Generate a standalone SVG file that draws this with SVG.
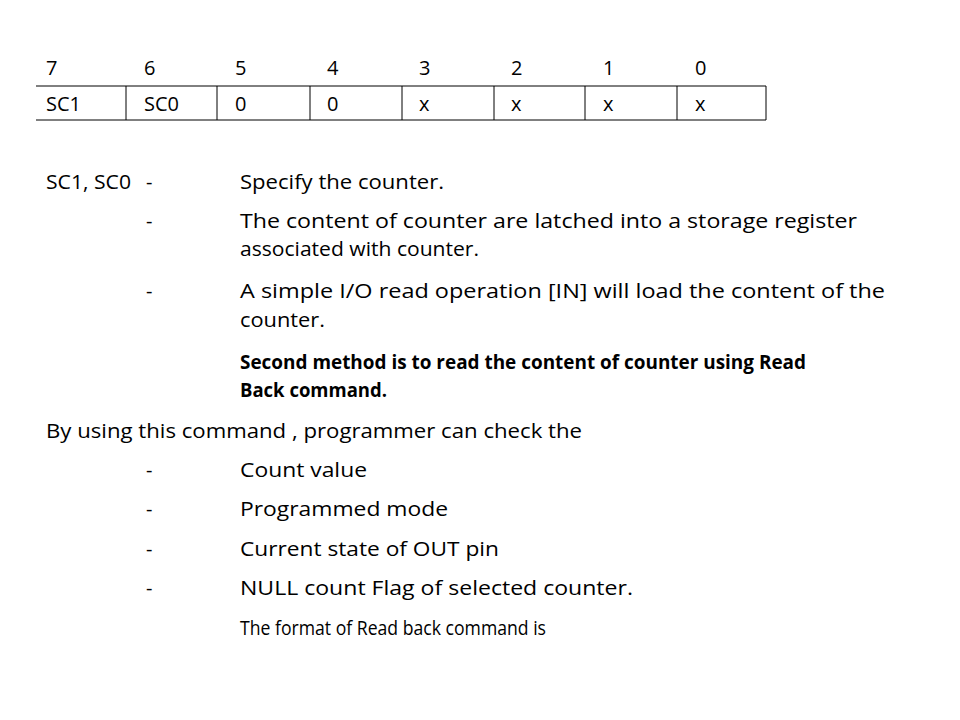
<svg xmlns="http://www.w3.org/2000/svg" width="960" height="720" viewBox="0 0 960 720">
<style>
text{font-family:"Open Sans","Liberation Sans",sans-serif;font-size:20px;fill:#000}
.b{font-weight:bold}
line{stroke:#000;stroke-width:1}
</style>
<rect width="960" height="720" fill="#fff"/>
<g id="table">
<line x1="36" y1="86" x2="766" y2="86"/>
<line x1="36" y1="120" x2="766" y2="120"/>
<line x1="126" y1="86" x2="126" y2="120"/>
<line x1="217" y1="86" x2="217" y2="120"/>
<line x1="310" y1="86" x2="310" y2="120"/>
<line x1="402" y1="86" x2="402" y2="120"/>
<line x1="494" y1="86" x2="494" y2="120"/>
<line x1="585" y1="86" x2="585" y2="120"/>
<line x1="677" y1="86" x2="677" y2="120"/>
<line x1="766" y1="86" x2="766" y2="120"/>
<text x="46" y="75">7</text><text x="144" y="75">6</text><text x="235" y="75">5</text><text x="327" y="75">4</text><text x="419" y="75">3</text><text x="511" y="75">2</text><text x="603" y="75">1</text><text x="695" y="75">0</text>
<text x="46" y="111">SC1</text><text x="144" y="111">SC0</text><text x="235" y="111">0</text><text x="327" y="111">0</text><text x="419" y="111">x</text><text x="511" y="111">x</text><text x="603" y="111">x</text><text x="695" y="111">x</text>
</g>
<g id="body" lengthAdjust="spacingAndGlyphs">
<text x="46" y="189" textLength="85" lengthAdjust="spacingAndGlyphs">SC1, SC0</text><text x="146" y="189">-</text><text x="240" y="189" textLength="204" lengthAdjust="spacingAndGlyphs">Specify the counter.</text>
<text x="146" y="228">-</text><text x="240" y="228" textLength="617" lengthAdjust="spacingAndGlyphs">The content of counter are latched into a storage register</text>
<text x="240" y="256" textLength="239" lengthAdjust="spacingAndGlyphs">associated with counter.</text>
<text x="146" y="298">-</text><text x="240" y="298" textLength="645" lengthAdjust="spacingAndGlyphs">A simple I/O read operation [IN] will load the content of the</text>
<text x="240" y="327" textLength="85" lengthAdjust="spacingAndGlyphs">counter.</text>
<text class="b" x="240" y="369" textLength="566" lengthAdjust="spacingAndGlyphs">Second method is to read the content of counter using Read</text>
<text class="b" x="240" y="397" textLength="147" lengthAdjust="spacingAndGlyphs">Back command.</text>
<text x="46" y="438" textLength="536" lengthAdjust="spacingAndGlyphs">By using this command , programmer can check the</text>
<text x="146" y="477">-</text><text x="240" y="477" textLength="127" lengthAdjust="spacingAndGlyphs">Count value</text>
<text x="146" y="516">-</text><text x="240" y="516" textLength="208" lengthAdjust="spacingAndGlyphs">Programmed mode</text>
<text x="146" y="556">-</text><text x="240" y="556" textLength="259" lengthAdjust="spacingAndGlyphs">Current state of OUT pin</text>
<text x="146" y="595">-</text><text x="240" y="595" textLength="393" lengthAdjust="spacingAndGlyphs">NULL count Flag of selected counter.</text>
<text x="240" y="635" textLength="306" lengthAdjust="spacingAndGlyphs">The format of Read back command is</text>
</g>
</svg>
